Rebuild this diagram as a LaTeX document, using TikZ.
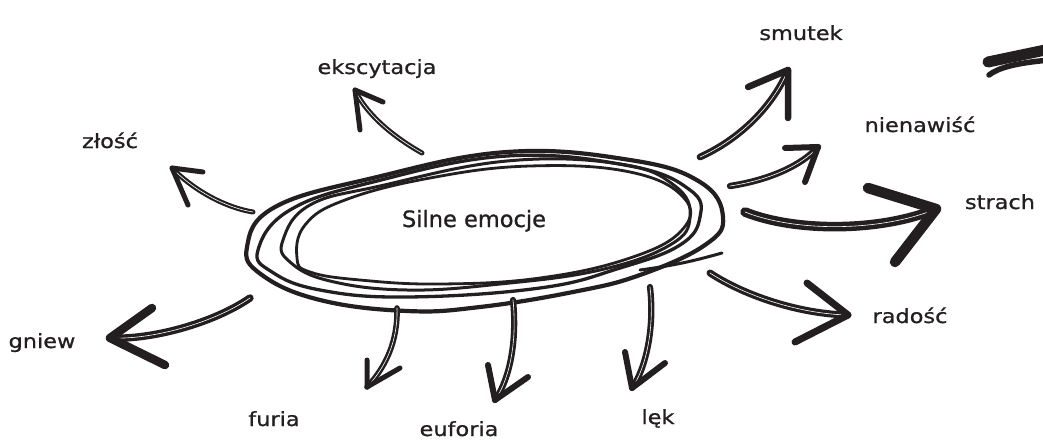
\documentclass[tikz,border=0pt]{standalone}
\usepackage{fontspec}
\newfontfamily\handfont[FakeStretch=1.15,FakeBold=0.9]{DejaVu Sans}
\newfontfamily\centerfont[FakeBold=0.9]{DejaVu Sans}
\definecolor{ink}{HTML}{231F20}
\begin{document}
\begin{tikzpicture}[x=1pt,y=-1pt,
  loopline/.style={draw=ink, line cap=round, line join=round},
  shaft/.style={draw=ink, line width=#1, double=white, double distance=0.6pt, line cap=round},
  shaft/.default=2pt,
  headline/.style={draw=ink, line width=#1, line cap=round, line join=round},
  headline/.default=4pt,
  lbl/.style={font=\handfont\fontsize{19.5}{22}\selectfont, text=ink, inner sep=0pt, anchor=base}]
\useasboundingbox[fill=white] (0,0) rectangle (1043,441);

% central scribbled loops
\draw[loopline, line width=4.2pt] plot[smooth cycle, tension=0.7] coordinates {
  (247,247) (275,207) (373,178) (507,152) (630,160) (700,182) (723,217) (705,245)
  (640,275) (573,292) (480,307) (407,311) (320,300) (262,275)};
\draw[loopline, line width=3.3pt] plot[smooth cycle, tension=0.7] coordinates {
  (258,250) (290,210) (373,182) (507,156) (630,166) (690,190) (700,217) (680,245)
  (620,268) (540,288) (407,297) (320,290) (272,272)};
\draw[loopline, line width=3pt] plot[smooth cycle, tension=0.7] coordinates {
  (283,240) (310,205) (380,186) (507,161) (620,164) (675,186) (690,217) (670,245)
  (600,270) (500,284) (407,290) (330,281) (290,262)};
\draw[loopline, line width=2.8pt] plot[smooth cycle, tension=0.7] coordinates {
  (297,258) (305,225) (345,200) (430,178) (530,166) (630,172) (684,198) (682,230)
  (630,258) (540,278) (440,284) (360,280) (310,272)};
\coordinate (tailA) at (640,270);
\coordinate (tailB) at (722,253);
\draw[loopline, line width=3pt] (tailA) to[bend right=4] (tailB);

\node[lbl, font=\centerfont\fontsize{22.5}{26}\selectfont] (center) at (474,227) {Silne emocje};

% labels
\node[lbl] (ek) at (377,74) {ekscytacja};
\node[lbl] (zl) at (110,148) {złość};
\node[lbl] (sm) at (801,40) {smutek};
\node[lbl] (ni) at (920,132) {nienawiść};
\node[lbl] (st) at (1000,209) {strach};
\node[lbl] (ra) at (910,323) {radość};
\node[lbl] (gn) at (42,348) {gniew};
\node[lbl] (fu) at (274,426) {furia};
\node[lbl] (eu) at (459,436) {euforia};
\node[lbl] (le) at (658,424) {lęk};

% arrow coordinates
\coordinate (ekS) at (422,153); \coordinate (ekT) at (355,90);
\coordinate (ekA) at (383,102); \coordinate (ekB) at (360,130);
\coordinate (zlS) at (253,212); \coordinate (zlT) at (172,168);
\coordinate (zlA) at (203,172); \coordinate (zlB) at (188,205);
\coordinate (smS) at (700,157); \coordinate (smT) at (788,70);
\coordinate (smA) at (748,87);  \coordinate (smB) at (788,118);
\coordinate (niS) at (730,186); \coordinate (niT) at (818,147);
\coordinate (niA) at (785,148); \coordinate (niB) at (805,182);
\coordinate (stS) at (745,212); \coordinate (stT) at (936,209);
\coordinate (stA) at (868,188); \coordinate (stB) at (895,262);
\coordinate (raS) at (710,273); \coordinate (raT) at (848,315);
\coordinate (raA) at (807,283); \coordinate (raB) at (795,342);
\coordinate (gnS) at (250,298); \coordinate (gnT) at (110,338);
\coordinate (gnA) at (152,308); \coordinate (gnB) at (165,365);
\coordinate (fuS) at (397,308); \coordinate (fuT) at (367,387);
\coordinate (fuA) at (367,360); \coordinate (fuB) at (400,368);
\coordinate (euS) at (513,300); \coordinate (euT) at (495,400);
\coordinate (euA) at (488,365); \coordinate (euB) at (528,377);
\coordinate (leS) at (650,287); \coordinate (leT) at (632,388);
\coordinate (leA) at (625,352); \coordinate (leB) at (665,363);

% shafts
\draw[shaft=2.2pt] (ekS) .. controls (390,135) and (365,112) .. (ekT);
\draw[shaft=2.2pt] (zlS) .. controls (222,207) and (190,187) .. (zlT);
\draw[shaft=3.1pt] (smS) .. controls (738,140) and (772,108) .. (smT);
\draw[shaft=2.9pt] (niS) .. controls (770,180) and (802,165) .. (niT);
\draw[shaft=4.5pt] (stS) .. controls (795,232) and (880,232) .. (stT);
\draw[shaft=3.2pt] (raS) .. controls (745,296) and (800,314) .. (raT);
\draw[shaft=3.4pt] (gnS) .. controls (212,324) and (150,340) .. (gnT);
\draw[shaft=2.5pt] (fuS) .. controls (398,342) and (385,368) .. (fuT);
\draw[shaft=2.8pt] (euS) .. controls (518,350) and (506,385) .. (euT);
\draw[shaft=2.8pt] (leS) .. controls (655,330) and (645,370) .. (leT);

% heads
\draw[headline=5pt]   (ekA) -- (ekT) -- (ekB);
\draw[headline=5pt]   (zlA) -- (zlT) -- (zlB);
\draw[headline=6.5pt] (smA) -- (smT) -- (smB);
\draw[headline=6pt]   (niA) -- (niT) -- (niB);
\draw[headline=10.5pt] (stA) -- (stT) -- (stB);
\draw[headline=7pt]   (raA) -- (raT) -- (raB);
\draw[headline=8.5pt] (gnA) -- (gnT) -- (gnB);
\draw[headline=5pt]   (fuA) -- (fuT) -- (fuB);
\draw[headline=6pt]   (euA) -- (euT) -- (euB);
\draw[headline=6pt]   (leA) -- (leT) -- (leB);

% top-right double stroke
\coordinate (dsA) at (988,62); \coordinate (dsB) at (1050,49);
\coordinate (dsC) at (989,75); \coordinate (dsD) at (1050,60);
\draw[headline=11pt] (dsA) -- (dsB);
\draw[headline=5.5pt] (dsC) .. controls (998,68) and (1015,63) .. (dsD);
\end{tikzpicture}
\end{document}
